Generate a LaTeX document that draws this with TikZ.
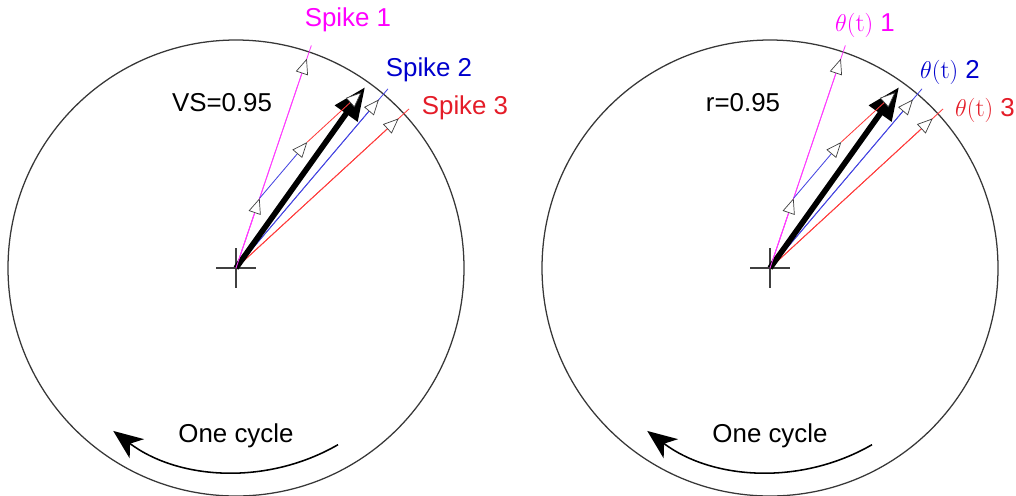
\documentclass[tikz,border=0pt]{standalone}
\usepackage{fontspec}
\setsansfont{Liberation Sans}
\usetikzlibrary{arrows.meta,calc}
\definecolor{magtxt}{RGB}{255,0,255}
\definecolor{magln}{RGB}{255,60,255}
\definecolor{bluetxt}{RGB}{0,0,205}
\definecolor{blueln}{RGB}{70,70,225}
\definecolor{redtxt}{RGB}{228,28,40}
\definecolor{redln}{RGB}{255,60,60}
\definecolor{circcol}{RGB}{55,55,55}
\tikzset{
  circ/.style={draw=circcol, line width=0.9pt},
  cross/.style={draw=black!75, line width=0.8pt},
  spikeline/.style={line width=0.6pt},
  openhead/.style={-{Triangle[length=11pt,width=9pt,color=black!75,fill=white,line width=0.5pt]}},
  sumarrow/.style={draw=black, line width=4pt, -{Triangle[length=23pt,width=19pt]}},
  cyclearrow/.style={draw=black, line width=1.1pt, -{Stealth[length=21pt,width=17pt,inset=6pt]}},
  lab/.style={font=\sffamily\fontsize{18.4}{21}\selectfont, inner sep=0pt},
}
\newcommand\polardiag[2]{%
  \coordinate (#1c) at (#2,-268);
  \draw[circ] (#1c) circle[radius=228];
  \coordinate (#1hl) at ($(#1c)+(-20,0)$);
  \coordinate (#1hr) at ($(#1c)+(20,0)$);
  \coordinate (#1vt) at ($(#1c)+(0,20)$);
  \coordinate (#1vb) at ($(#1c)+(0,-20)$);
  \draw[cross] (#1hl) -- (#1hr);
  \draw[cross] (#1vt) -- (#1vb);
  % spikes
  \coordinate (#1e1) at ($(#1c)+(71.3:235)$);
  \coordinate (#1t1) at ($(#1c)+(71.3:221)$);
  \coordinate (#1e2) at ($(#1c)+(49.7:235)$);
  \coordinate (#1t2) at ($(#1c)+(49.7:221)$);
  \coordinate (#1e3) at ($(#1c)+(42.6:235)$);
  \coordinate (#1t3) at ($(#1c)+(42.6:221)$);
  \draw[magln, spikeline] (#1c) -- (#1e1);
  \draw[magln, spikeline, openhead] (#1c) -- (#1t1);
  \draw[blueln, spikeline] (#1c) -- (#1e2);
  \draw[blueln, spikeline, openhead] (#1c) -- (#1t2);
  \draw[redln, spikeline] (#1c) -- (#1e3);
  \draw[redln, spikeline, openhead] (#1c) -- (#1t3);
  % resultant
  \coordinate (#1s) at ($(#1c)+(54.5:222)$);
  \draw[sumarrow] (#1c) -- (#1s);
  % head-to-tail sum
  \coordinate (#1m1) at ($(#1c)+(71.3:73.67)$);
  \coordinate (#1m2) at ($(#1m1)+(49.7:73.67)$);
  \coordinate (#1m3) at ($(#1m2)+(42.6:73.67)$);
  \draw[magln, spikeline, openhead] (#1c) -- (#1m1);
  \draw[blueln, spikeline, openhead] (#1m1) -- (#1m2);
  \draw[redln, spikeline, openhead] (#1m2) -- (#1m3);
  % one cycle arrow
  \coordinate (#1a) at ($(#1c)+(-60:204)$);
  \draw[cyclearrow] (#1a) arc[start angle=-60, end angle=-127, radius=204];
}
\begin{document}
\begin{tikzpicture}[x=0.025cm, y=0.025cm]
\useasboundingbox (0,0) rectangle (1016,-495);
\polardiag{L}{236}
\polardiag{R}{770}
% left labels
\node[lab, text=magtxt] (Ls1) at (348,-20) {Spike 1};
\node[lab, text=bluetxt] (Ls2) at (429,-70) {Spike 2};
\node[lab, text=redtxt] (Ls3) at (465,-108) {Spike 3};
\node[lab] (Lvs) at (222,-103) {VS=0.95};
\node[lab] (Loc) at (236,-436) {One cycle};
% right labels
\node[lab, text=magtxt] (Rs1) at (865,-25) {$\theta(\mathrm{t})$ 1};
\node[lab, text=bluetxt] (Rs2) at (950,-72) {$\theta(\mathrm{t})$ 2};
\node[lab, text=redtxt] (Rs3) at (985,-110) {$\theta(\mathrm{t})$ 3};
\node[lab] (Rr) at (743,-103) {r=0.95};
\node[lab] (Roc) at (770,-436) {One cycle};
\end{tikzpicture}
\end{document}
